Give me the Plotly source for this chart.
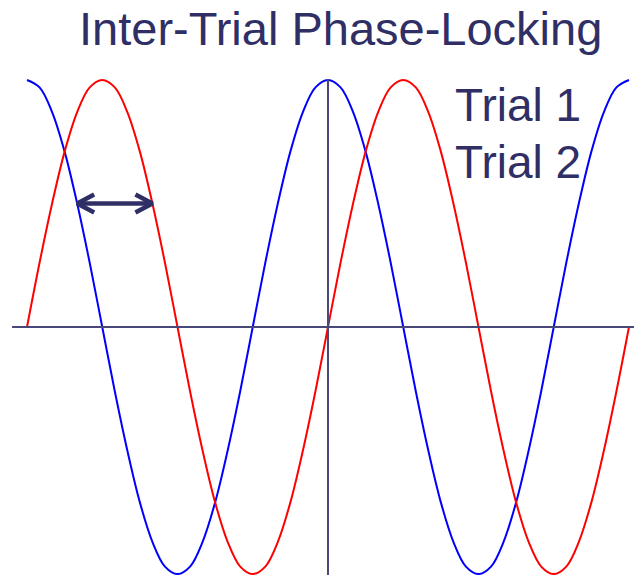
import plotly.graph_objects as go

# phase in degrees, sampled every 15 degrees
phase = list(range(-360, 361, 15))
one_period_cos = [1, .97, .87, .71, .5, .26, 0, -.26, -.5, -.71, -.87, -.97,
                  -1, -.97, -.87, -.71, -.5, -.26, 0, .26, .5, .71, .87, .97]
one_period_sin = [0, .26, .5, .71, .87, .97, 1, .97, .87, .71, .5, .26,
                  0, -.26, -.5, -.71, -.87, -.97, -1, -.97, -.87, -.71, -.5, -.26]
trial1 = one_period_cos * 2 + [1]
trial2 = one_period_sin * 2 + [0]
labels = ["Trial 1", "Trial 2"]
title = "Inter-Trial Phase-Locking"

# phase lag arrow between the two trials
arrow_from = -300
arrow_to = -210
arrow_y = 0.5

navy = "#2f2f66"
axis_col = "#48487a"

W, H = 634, 575
x_range = [-392.3, 366.0]
y_range = [-1.004, 1.008]
px_x = W / (x_range[1] - x_range[0])
px_y = (H - 78) / (y_range[1] - y_range[0])

fig = go.Figure()
fig.add_trace(go.Scatter(x=phase, y=trial1, mode="lines", line=dict(color="#0000ff", width=2, shape="spline", smoothing=1.0)))
fig.add_trace(go.Scatter(x=phase, y=trial2, mode="lines", line=dict(color="#ff0000", width=2, shape="spline", smoothing=1.0)))

# axes through origin
fig.add_shape(type="line", x0=-377.9, x1=x_range[1], y0=0, y1=0, line=dict(color=axis_col, width=2))
fig.add_shape(type="line", x0=0, x1=0, y0=y_range[0], y1=1.004, line=dict(color=axis_col, width=2))

# double headed arrow with open heads
hl = 17 / px_x
hw = 9 / px_y
ax = [arrow_from + hl, arrow_from, arrow_from + hl, None,
      arrow_from, arrow_to, None,
      arrow_to - hl, arrow_to, arrow_to - hl]
ay = [arrow_y + hw, arrow_y, arrow_y - hw, None,
      arrow_y, arrow_y, None,
      arrow_y + hw, arrow_y, arrow_y - hw]
fig.add_trace(go.Scatter(x=ax, y=ay, mode="lines", line=dict(color=navy, width=4.5)))

font = dict(family="Liberation Sans, Arial, sans-serif", color=navy)
fig.add_annotation(text=title, xref="paper", yref="paper", x=340 / W, y=(H - 28) / (H - 78),
                   xanchor="center", yanchor="middle", showarrow=False, font=dict(size=47, **font))
for lab, py in zip(labels, [105.5, 162.5]):
    fig.add_annotation(text=lab, xref="paper", yref="paper", x=453 / W, y=(H - py) / (H - 78),
                       xanchor="left", yanchor="middle", showarrow=False, font=dict(size=46, **font))

fig.update_layout(
    width=W, height=H,
    margin=dict(l=0, r=0, t=78, b=0),
    plot_bgcolor="white", paper_bgcolor="white",
    showlegend=False,
    hovermode=False,
    xaxis=dict(range=x_range, visible=False),
    yaxis=dict(range=y_range, visible=False),
)

fig.write_html("out.html", config={"displayModeBar": False},
               post_script="document.body.style.margin='0';")
